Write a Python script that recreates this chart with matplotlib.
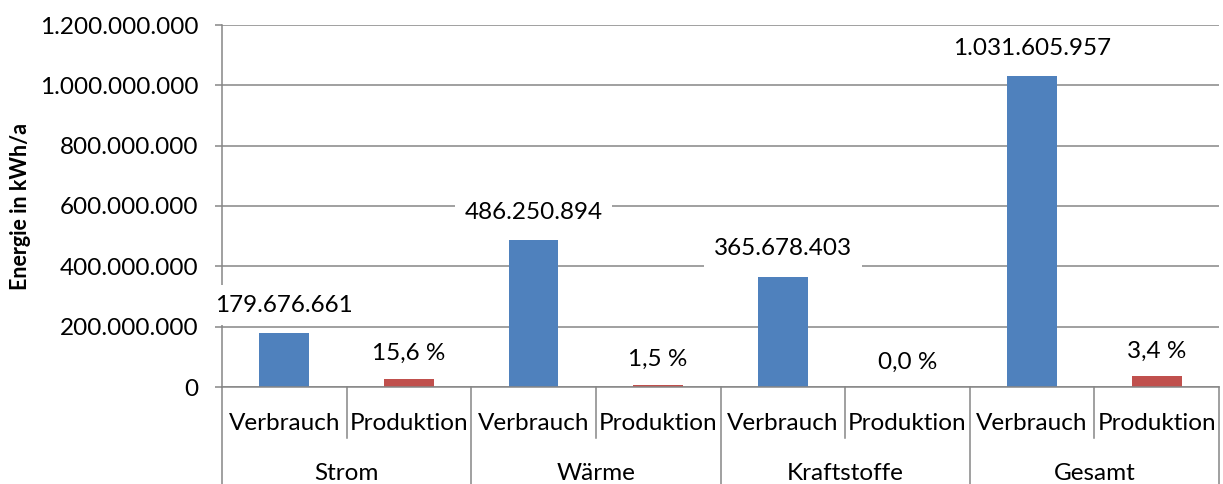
import matplotlib
matplotlib.use("Agg")
import matplotlib.pyplot as plt
from matplotlib.ticker import FuncFormatter, MultipleLocator
import matplotlib.transforms as mtransforms

categories = ["Strom", "Wärme", "Kraftstoffe", "Gesamt"]
sub_labels = ["Verbrauch", "Produktion"]
verbrauch = [179676661, 486250894, 365678403, 1031605957]
produktion = [28000000, 7300000, 0, 35300000]
produktion_pct = [15.6, 1.5, 0.0, 3.4]

plt.rcParams["font.family"] = ["Lato", "DejaVu Sans"]
FS = 17.5
BLUE = "#4F81BD"
RED = "#C0504D"
GRID = "#868686"

fig = plt.figure(figsize=(12.23, 4.84), dpi=100)
ax = fig.add_axes([222 / 1223, 1 - 387 / 484, 997 / 1223, 362 / 484])

xv = [2 * i for i in range(len(categories))]
xp = [2 * i + 1 for i in range(len(categories))]
ax.bar(xv, verbrauch, width=0.4, color=BLUE, zorder=2)
ax.bar(xp, produktion, width=0.4, color=RED, zorder=2)

ax.set_xlim(-0.5, 2 * len(categories) - 0.5)
ax.set_ylim(0, 1.2e9)
ax.yaxis.set_major_locator(MultipleLocator(2e8))
ax.yaxis.set_major_formatter(FuncFormatter(lambda v, p: f"{int(round(v)):,}".replace(",", ".")))
ax.grid(axis="y", color=GRID, lw=1.1, zorder=0)
ax.set_axisbelow(True)
for s in ["top", "right"]:
    ax.spines[s].set_visible(False)
ax.spines["left"].set_color(GRID)
ax.spines["bottom"].set_color(GRID)
ax.spines["left"].set_linewidth(1.1)
ax.spines["bottom"].set_linewidth(1.1)
ax.tick_params(axis="y", length=5, width=1.1, color=GRID, labelsize=FS, pad=12)
ax.set_xticks([])

ax.set_ylabel("Energie in kWh/a", fontsize=15.5, fontweight="bold")
ax.yaxis.set_label_coords(-0.1916, 0.5)

# value labels
for x, v in zip(xv, verbrauch):
    ax.annotate(f"{v:,}".replace(",", "."), (x, v), xytext=(0, 20), textcoords="offset points",
                ha="center", va="center", fontsize=FS, zorder=5,
                bbox=dict(boxstyle="square,pad=0.4", fc="white", ec="none"))
for x, v, p in zip(xp, produktion, produktion_pct):
    ax.annotate(f"{p:.1f} %".replace(".", ","), (x, v), xytext=(0, 18), textcoords="offset points",
                ha="center", va="center", fontsize=FS, zorder=5,
                bbox=dict(boxstyle="square,pad=0.4", fc="white", ec="none"))

# multi-level category axis
trans = mtransforms.blended_transform_factory(ax.transData, ax.transAxes)
y_sub_end = -51 / 362
y_bottom = -97 / 362
for i, cat in enumerate(categories):
    for j, sl in enumerate(sub_labels):
        ax.text(2 * i + j, -36 / 362, sl, transform=trans, ha="center", va="center", fontsize=FS)
    ax.text(2 * i + 0.5, -87 / 362, cat, transform=trans, ha="center", va="center", fontsize=FS)
    ax.plot([2 * i + 0.5, 2 * i + 0.5], [0, y_sub_end], transform=trans, color=GRID, lw=1.1, clip_on=False)
for i in range(len(categories) + 1):
    xx = 2 * i - 0.5
    ax.plot([xx, xx], [0, y_bottom], transform=trans, color=GRID, lw=1.1, clip_on=False)

fig.savefig("out.png", dpi=100)
